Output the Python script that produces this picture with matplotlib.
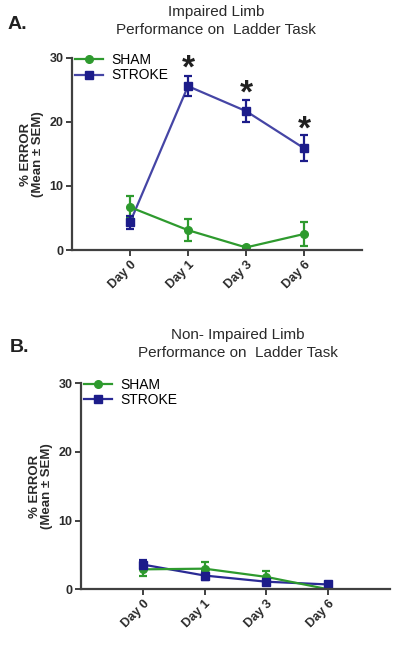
import matplotlib.pyplot as plt
from matplotlib.lines import Line2D
import numpy as np

days = ["Day 0", "Day 1", "Day 3", "Day 6"]

# panel A - impaired limb
a_sham = [6.7, 3.1, 0.4, 2.5]
a_sham_err = [1.7, 1.7, 0.3, 1.8]
a_stroke = [4.3, 25.6, 21.7, 15.9]
a_stroke_err = [1.0, 1.6, 1.7, 2.0]
a_star_y = [28.3, 24.4, 18.8]   # asterisks above stroke at day1/3/6

# panel B - non-impaired limb
b_sham = [2.9, 3.0, 1.8, 0.0]
b_sham_err = [0.9, 1.0, 0.8, 0.2]
b_stroke = [3.6, 2.0, 1.1, 0.7]
b_stroke_err = [0.6, 0.6, 0.5, 0.4]

green = "#2e9a2e"
blue = "#1c1c8a"
axcol = "#404040"
txt = "#2a2a2a"

plt.rcParams['font.family'] = ['Liberation Sans', 'DejaVu Sans']

fig = plt.figure(figsize=(4.0, 6.45), dpi=100)
ax_a = fig.add_axes([0.18, 0.6124, 0.725, 0.2977])
ax_b = fig.add_axes([0.2025, 0.0864, 0.7725, 0.3194])

x = np.arange(len(days))


def draw(ax, sham, sham_err, stroke, stroke_err, stroke_line):
    ax.errorbar(x, sham, yerr=sham_err, color=green, marker="o", ms=5.5,
                lw=1.6, elinewidth=1.6, capsize=3, capthick=1.6)
    ax.plot(x, stroke, color=stroke_line, lw=1.6)
    ax.errorbar(x, stroke, yerr=stroke_err, color=blue, marker="s", ms=5.5,
                ls="none", elinewidth=1.6, capsize=3, capthick=1.6)
    ax.set_xlim(-1, 4)
    ax.set_ylim(0, 30)
    ax.set_yticks([0, 10, 20, 30])
    ax.set_xticks(x)
    ax.set_xticklabels(days, rotation=45, ha="right", rotation_mode="anchor",
                       fontsize=9, fontweight="bold", color=txt)
    for lab in ax.get_yticklabels():
        lab.set_fontsize(9)
        lab.set_fontweight("bold")
        lab.set_color(txt)
    for s in ["top", "right"]:
        ax.spines[s].set_visible(False)
    for s in ["left", "bottom"]:
        ax.spines[s].set_linewidth(1.6)
        ax.spines[s].set_color(axcol)
    ax.tick_params(width=1.4, length=4, color=axcol, pad=2)
    ax.set_ylabel("% ERROR\n(Mean ± SEM)", fontsize=9.5, fontweight="bold",
                  color=txt, linespacing=1.0, labelpad=4)
    handles = [Line2D([], [], color=green, marker="o", ms=5.5, lw=1.6),
               Line2D([], [], color=stroke_line, marker="s", ms=5.5, lw=1.6,
                      mfc=blue, mec=blue)]
    ax.legend(handles, ["SHAM", "STROKE"], loc="upper left", frameon=False,
              fontsize=10, handlelength=2.0, borderaxespad=0.1,
              handletextpad=0.6, labelspacing=0.1, borderpad=0.1,
              bbox_to_anchor=(0.0, 1.04))


draw(ax_a, a_sham, a_sham_err, a_stroke, a_stroke_err, "#4545a5")
draw(ax_b, b_sham, b_sham_err, b_stroke, b_stroke_err, "#2a2a95")

for xi, yi in zip(x[1:], a_star_y):
    ax_a.text(xi, yi, "*", ha="center", va="center", fontsize=24,
              fontweight="bold", color="#202020")

fig.text(0.54, 0.982, "Impaired Limb", ha="center", va="center",
         fontsize=11, color=txt)
fig.text(0.54, 0.953, "Performance on  Ladder Task", ha="center", va="center",
         fontsize=11, color=txt)
fig.text(0.02, 0.962, "A.", ha="left", va="center", fontsize=14,
         fontweight="bold", color="#202020")

fig.text(0.595, 0.481, "Non- Impaired Limb", ha="center", va="center",
         fontsize=11, color=txt)
fig.text(0.595, 0.453, "Performance on  Ladder Task", ha="center", va="center",
         fontsize=11, color=txt)
fig.text(0.025, 0.462, "B.", ha="left", va="center", fontsize=14,
         fontweight="bold", color="#202020")

fig.savefig("out.png", dpi=100)
